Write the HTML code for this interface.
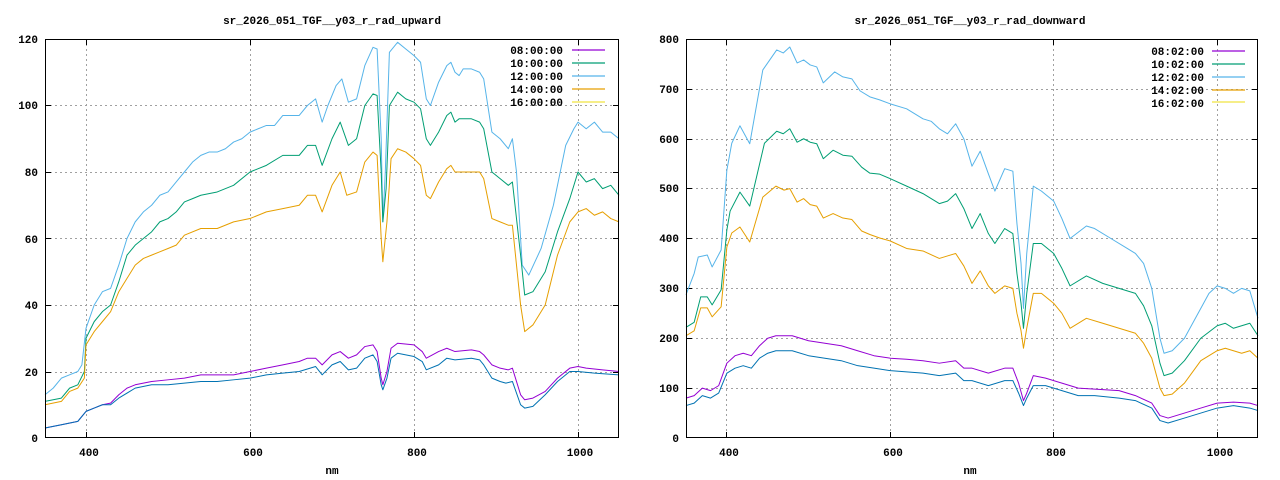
<!DOCTYPE html>
<html><head><meta charset="utf-8"><style>
html,body{margin:0;padding:0;background:#fff;}
svg{display:block;font-family:"Liberation Mono",monospace;font-size:11px;font-weight:bold;}
.g{stroke:#a0a0a0;stroke-width:1;stroke-dasharray:2,3;fill:none}
.s{fill:none;stroke-width:1;vector-effect:non-scaling-stroke;stroke-linejoin:round}
.t{stroke:#000;stroke-width:1}
</style></head><body>
<svg width="1280" height="480" viewBox="0 0 1280 480" xmlns="http://www.w3.org/2000/svg">
<rect width="1280" height="480" fill="#fff"/>
<!-- LEFT -->
<text x="332" y="24" text-anchor="middle">sr_2026_051_TGF__y03_r_rad_upward</text>
<g class="g">
<line x1="45" x2="619" y1="372.5" y2="372.5"/><line x1="45" x2="619" y1="305.5" y2="305.5"/><line x1="45" x2="619" y1="238.5" y2="238.5"/><line x1="45" x2="619" y1="172.5" y2="172.5"/><line x1="45" x2="619" y1="105.5" y2="105.5"/>
<line x1="86.5" x2="86.5" y1="39" y2="438"/><line x1="250.5" x2="250.5" y1="39" y2="438"/><line x1="414.5" x2="414.5" y1="39" y2="438"/><line x1="578.5" x2="578.5" y1="39" y2="438"/>
</g>
<g class="t">
<line x1="45" x2="51" y1="372.5" y2="372.5"/><line x1="45" x2="51" y1="305.5" y2="305.5"/><line x1="45" x2="51" y1="238.5" y2="238.5"/><line x1="45" x2="51" y1="172.5" y2="172.5"/><line x1="45" x2="51" y1="105.5" y2="105.5"/>
<line x1="613" x2="619" y1="372.5" y2="372.5"/><line x1="613" x2="619" y1="305.5" y2="305.5"/><line x1="613" x2="619" y1="238.5" y2="238.5"/><line x1="613" x2="619" y1="172.5" y2="172.5"/><line x1="613" x2="619" y1="105.5" y2="105.5"/>
<line x1="86.5" x2="86.5" y1="432" y2="438"/><line x1="250.5" x2="250.5" y1="432" y2="438"/><line x1="414.5" x2="414.5" y1="432" y2="438"/><line x1="578.5" x2="578.5" y1="432" y2="438"/>
<line x1="86.5" x2="86.5" y1="39" y2="45"/><line x1="250.5" x2="250.5" y1="39" y2="45"/><line x1="414.5" x2="414.5" y1="39" y2="45"/><line x1="578.5" x2="578.5" y1="39" y2="45"/>
</g>
<g text-anchor="end">
<text x="38" y="442">0</text><text x="38" y="376">20</text><text x="38" y="309">40</text><text x="38" y="243">60</text><text x="38" y="176">80</text><text x="38" y="109">100</text><text x="38" y="43">120</text>
</g>
<g text-anchor="middle"><text x="89" y="456">400</text><text x="253" y="456">600</text><text x="417" y="456">800</text><text x="580" y="456">1000</text><text x="332" y="474">nm</text></g>
<g transform="translate(45,438) scale(0.82,-3.325) translate(-350,0)">
<polyline class="s" stroke="#56b4e9" points="350,13 360,15 370,18 380,19 390,20 395,22 400,33 410,40 420,44 430,45 440,52 450,60 460,65 470,68 480,70 490,73 500,74 510,77 520,80 530,83 540,85 550,86 560,86 570,87 580,89 590,90 600,92 610,93 620,94 630,94 640,97 650,97 660,97 670,100 680,102 688,95 695,100 705,106 712,108 720,101 730,102 740,112 750,117.5 755,117 760,90 762,65 765,80 770,116 780,119 790,117 800,115 808,113 815,102 820,100 830,107 840,112 845,113 850,110 855,109 860,111 870,111 880,110 885,108 895,92 905,90 915,87 920,90 925,80 932,52 940,49 955,57 970,70 985,88 995,93 1000,95 1010,93 1020,95 1030,92 1040,92 1050,90"/>
<polyline class="s" stroke="#009e73" points="350,11 370,12 380,15 390,16 398,20 400,30 410,35 420,38 430,40 440,47 450,55 460,58 470,60 480,62 490,65 500,66 510,68 520,71 530,72 540,73 560,74 580,76 600,80 620,82 640,85 660,85 670,88 680,88 688,82 700,90 710,95 720,88 730,90 740,100 750,103.5 755,103 760,80 762,65 766,75 770,100 780,104 790,102 800,101 808,99 815,90 820,88 830,92 840,97 845,98 850,95 855,96 870,96 880,95 885,93 895,80 905,78 915,76 920,77 930,55 935,43 945,44 960,50 975,62 990,72 1000,80 1010,77 1020,78 1030,75 1040,76 1050,73"/>
<polyline class="s" stroke="#e69f00" points="350,10 370,11 380,14 390,15 398,18 400,28 410,32 420,35 430,38 440,44 450,48 460,52 470,54 480,55 490,56 500,57 510,58 520,61 540,63 560,63 580,65 600,66 620,68 640,69 660,70 670,73 680,73 688,68 700,76 710,80 718,73 730,74 740,83 750,86 755,85 760,60 762,53 767,65 772,84 780,87 790,86 800,84 808,82 815,73 820,72 830,77 840,81 845,82 850,80 870,80 880,80 885,78 895,66 905,65 915,64 920,64 930,40 935,32 945,34 960,40 975,55 990,65 1000,68 1010,69 1020,67 1030,68 1040,66 1050,65"/>
<polyline class="s" stroke="#9400d3" points="350,3 370,4 390,5 400,8 410,9 420,10 430,10.5 440,13 450,15 460,16 480,17 500,17.5 520,18 540,19 560,19 580,19 600,20 620,21 640,22 660,23 670,24 680,24 688,22 700,25 710,26 720,24 730,25 740,27.5 750,28 755,26 760,18 762,16 767,20 772,27 780,28.5 800,28 810,26 815,24 830,26 840,27 850,26 870,26.5 880,26 885,25 895,22 905,21 915,20.5 920,21 930,13 935,11.5 945,12 960,14 975,18 990,21 1000,21.5 1010,21 1030,20.5 1050,20"/>
<polyline class="s" stroke="#0072b2" points="350,3 370,4 390,5 400,8 410,9 420,10 430,10 440,12 460,15 480,16 500,16 520,16.5 540,17 560,17 580,17.5 600,18 620,19 640,19.5 660,20 680,21.5 688,19 700,22 710,23 720,20.5 730,21 740,24 750,25 755,23 760,16 762,14.5 767,18 772,24 780,25.5 800,24.5 810,23 815,20.5 830,22 840,24 850,23.5 870,24 880,23.5 885,22 895,18 905,17 912,16.5 920,17 930,10 935,9 945,9.5 960,13 975,17 990,20 1000,20 1020,19.5 1050,19"/>
</g>
<rect x="45.5" y="39.5" width="573" height="398" fill="none" stroke="#000"/>
<g text-anchor="end"><text x="563" y="54">08:00:00</text><text x="563" y="67">10:00:00</text><text x="563" y="80">12:00:00</text><text x="563" y="93">14:00:00</text><text x="563" y="106">16:00:00</text></g>
<g stroke-width="1.2"><line x1="572" x2="605" y1="50" y2="50" stroke="#9400d3"/><line x1="572" x2="605" y1="63" y2="63" stroke="#009e73"/><line x1="572" x2="605" y1="76" y2="76" stroke="#56b4e9"/><line x1="572" x2="605" y1="89" y2="89" stroke="#e69f00"/><line x1="572" x2="605" y1="102" y2="102" stroke="#f0e442"/></g>

<!-- RIGHT -->
<text x="970" y="24" text-anchor="middle">sr_2026_051_TGF__y03_r_rad_downward</text>
<g class="g">
<line x1="686" x2="1258" y1="388.5" y2="388.5"/><line x1="686" x2="1258" y1="338.5" y2="338.5"/><line x1="686" x2="1258" y1="288.5" y2="288.5"/><line x1="686" x2="1258" y1="238.5" y2="238.5"/><line x1="686" x2="1258" y1="188.5" y2="188.5"/><line x1="686" x2="1258" y1="139.5" y2="139.5"/><line x1="686" x2="1258" y1="89.5" y2="89.5"/>
<line x1="726.5" x2="726.5" y1="39" y2="438"/><line x1="890.5" x2="890.5" y1="39" y2="438"/><line x1="1053.5" x2="1053.5" y1="39" y2="438"/><line x1="1217.5" x2="1217.5" y1="39" y2="438"/>
</g>
<g class="t">
<line x1="686" x2="692" y1="388.5" y2="388.5"/><line x1="686" x2="692" y1="338.5" y2="338.5"/><line x1="686" x2="692" y1="288.5" y2="288.5"/><line x1="686" x2="692" y1="238.5" y2="238.5"/><line x1="686" x2="692" y1="188.5" y2="188.5"/><line x1="686" x2="692" y1="139.5" y2="139.5"/><line x1="686" x2="692" y1="89.5" y2="89.5"/>
<line x1="1252" x2="1258" y1="388.5" y2="388.5"/><line x1="1252" x2="1258" y1="338.5" y2="338.5"/><line x1="1252" x2="1258" y1="288.5" y2="288.5"/><line x1="1252" x2="1258" y1="238.5" y2="238.5"/><line x1="1252" x2="1258" y1="188.5" y2="188.5"/><line x1="1252" x2="1258" y1="139.5" y2="139.5"/><line x1="1252" x2="1258" y1="89.5" y2="89.5"/>
<line x1="726.5" x2="726.5" y1="432" y2="438"/><line x1="890.5" x2="890.5" y1="432" y2="438"/><line x1="1053.5" x2="1053.5" y1="432" y2="438"/><line x1="1217.5" x2="1217.5" y1="432" y2="438"/>
<line x1="726.5" x2="726.5" y1="39" y2="45"/><line x1="890.5" x2="890.5" y1="39" y2="45"/><line x1="1053.5" x2="1053.5" y1="39" y2="45"/><line x1="1217.5" x2="1217.5" y1="39" y2="45"/>
</g>
<g text-anchor="end">
<text x="679" y="442">0</text><text x="679" y="392">100</text><text x="679" y="342">200</text><text x="679" y="292">300</text><text x="679" y="242">400</text><text x="679" y="192">500</text><text x="679" y="143">600</text><text x="679" y="93">700</text><text x="679" y="43">800</text>
</g>
<g text-anchor="middle"><text x="729" y="456">400</text><text x="893" y="456">600</text><text x="1056" y="456">800</text><text x="1220" y="456">1000</text><text x="970" y="474">nm</text></g>
<g transform="translate(686,438) scale(0.81714,-0.49875) translate(-350,0)">
<polyline class="s" stroke="#56b4e9" points="350,287 360,330 365,363 376,367 382,343 393,377 400,537 406,591 416,626 428,590 444,738 461,778 469,772 477,784 486,752 494,758 502,748 510,744 518,712 532,734 542,724 553,720 563,696 575,684 587,678 600,670 620,660 640,640 650,635 660,620 670,610 680,630 690,600 700,545 710,575 720,530 728,495 740,540 750,535 755,430 760,350 763,260 767,370 775,505 785,495 800,475 810,440 820,400 840,425 850,420 870,400 890,380 900,370 910,350 920,300 930,200 935,170 945,175 960,200 980,260 990,290 1000,305 1010,300 1020,290 1030,300 1040,295 1050,240"/>
<polyline class="s" stroke="#009e73" points="350,222 360,232 368,283 376,283 382,267 393,297 400,417 404,455 416,493 428,465 446,591 461,615 469,610 477,620 486,593 494,600 502,593 510,590 518,560 530,577 542,567 553,565 565,543 575,531 587,529 600,520 620,505 640,490 660,470 670,475 680,490 690,460 700,420 710,450 720,410 728,390 740,420 750,410 755,330 760,270 763,220 767,290 775,390 785,390 800,370 810,340 820,305 840,325 860,310 880,300 900,290 910,265 920,225 930,150 935,125 945,130 960,155 980,200 1000,225 1010,230 1020,220 1030,225 1040,230 1050,205"/>
<polyline class="s" stroke="#e69f00" points="350,205 360,215 368,261 376,261 382,243 393,263 400,383 406,411 416,423 428,393 444,483 460,505 470,497 477,500 486,473 494,480 502,468 510,465 518,441 530,450 542,441 553,438 565,415 575,408 587,401 600,395 620,380 640,375 660,360 670,365 680,370 690,345 700,310 710,335 720,305 728,290 740,305 750,300 755,250 760,215 763,180 767,220 775,290 785,290 800,270 810,250 820,220 840,240 860,230 880,220 900,210 910,190 920,160 930,100 935,85 945,88 960,110 980,155 1000,175 1010,180 1020,175 1030,170 1040,175 1050,160"/>
<polyline class="s" stroke="#9400d3" points="350,80 360,85 370,100 380,95 390,105 400,150 410,165 420,170 430,165 440,185 450,200 460,205 480,205 500,195 520,190 540,185 560,175 580,165 600,160 620,158 640,155 660,150 680,155 690,140 700,140 720,130 740,140 750,140 757,110 763,75 767,90 775,125 790,120 810,110 830,100 850,98 880,95 900,85 920,70 930,45 940,40 960,50 980,60 1000,70 1020,72 1040,70 1050,65"/>
<polyline class="s" stroke="#0072b2" points="350,65 360,70 370,85 380,80 390,90 400,130 410,140 420,145 430,140 440,160 450,170 460,175 480,175 500,165 520,160 540,155 560,145 580,140 600,135 640,130 660,125 680,130 690,115 700,115 720,105 740,115 750,115 757,90 763,65 767,80 775,105 790,105 810,95 830,85 850,85 880,80 900,75 920,60 930,35 940,30 960,40 980,50 1000,60 1020,65 1040,60 1050,55"/>
</g>
<rect x="686.5" y="39.5" width="571" height="398" fill="none" stroke="#000"/>
<g text-anchor="end"><text x="1204" y="55">08:02:00</text><text x="1204" y="68">10:02:00</text><text x="1204" y="81">12:02:00</text><text x="1204" y="94">14:02:00</text><text x="1204" y="107">16:02:00</text></g>
<g stroke-width="1.2"><line x1="1212" x2="1245" y1="51" y2="51" stroke="#9400d3"/><line x1="1212" x2="1245" y1="64" y2="64" stroke="#009e73"/><line x1="1212" x2="1245" y1="77" y2="77" stroke="#56b4e9"/><line x1="1212" x2="1245" y1="90" y2="90" stroke="#e69f00"/><line x1="1212" x2="1245" y1="102" y2="102" stroke="#f0e442"/></g>
</svg>
</body></html>
